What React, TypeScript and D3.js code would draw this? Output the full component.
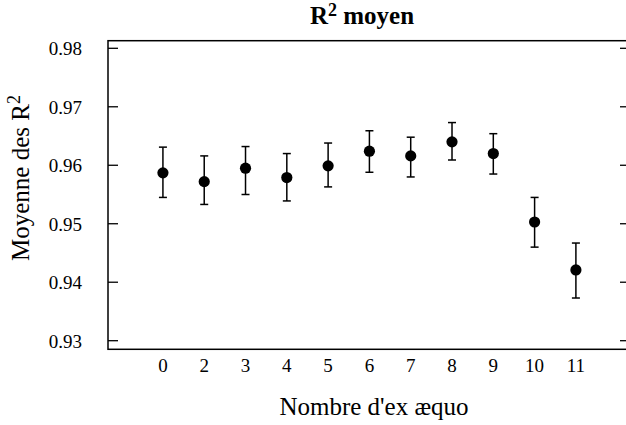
import React from "react";
import * as d3 from "d3";

const categories = ["0", "2", "3", "4", "5", "6", "7", "8", "9", "10", "11"];
const means = [0.9587, 0.9572, 0.9595, 0.9579, 0.9599, 0.9624, 0.9616, 0.964, 0.962, 0.9503, 0.9421];
const lows = [0.9545, 0.9533, 0.955, 0.9539, 0.9563, 0.9588, 0.958, 0.9609, 0.9585, 0.946, 0.9373];
const highs = [0.9631, 0.9616, 0.9632, 0.962, 0.9638, 0.9659, 0.9648, 0.9673, 0.9654, 0.9545, 0.9467];
const yTicks = [0.93, 0.94, 0.95, 0.96, 0.97, 0.98];

const W = 626;
const H = 425;
const left = 108;
const right = 630;
const top = 40.7;
const bottom = 349.3;
const FONT = `"Liberation Serif", "Times New Roman", serif`;

export default function App() {
  const x = d3.scaleLinear().domain([-1.33, 11.31]).range([left, right]);
  const y = d3.scaleLinear().domain([0.93, 0.98]).range([340.7, 48.3]);
  const cap = 4;
  const r = 5.6;
  const ts = { fontFamily: FONT };

  return (
    <>
      <style>{`body{margin:0}`}</style>
      <svg width={W} height={H} style={{ display: "block", background: "#fff" }}>
        <text x={362} y={24} textAnchor="middle" fontSize={25} fontWeight="bold" fill="#000" style={ts}>
          R<tspan fontSize={18} dy={-8}>2</tspan>
          <tspan dy={8}> moyen</tspan>
        </text>

        <rect x={left} y={top} width={right - left} height={bottom - top} fill="none" stroke="#000" strokeWidth={1.5} />

        {yTicks.map((t) => (
          <g key={t}>
            <line x1={left} x2={left + 10} y1={y(t)} y2={y(t)} stroke="#000" strokeWidth={1.3} />
            <line x1={right} x2={right - 10} y1={y(t)} y2={y(t)} stroke="#000" strokeWidth={1.3} />
            <text x={82} y={y(t) + 6.8} textAnchor="end" fontSize={19} fill="#000" style={ts}>
              {d3.format(".2f")(t)}
            </text>
          </g>
        ))}

        {categories.map((c, i) => (
          <text key={c} x={x(i)} y={372} textAnchor="middle" fontSize={19} fill="#000" style={ts}>
            {c}
          </text>
        ))}

        {categories.map((c, i) => (
          <g key={"e" + c}>
            <line x1={x(i)} x2={x(i)} y1={y(lows[i])} y2={y(highs[i])} stroke="#000" strokeWidth={1.5} />
            <line x1={x(i) - cap} x2={x(i) + cap} y1={y(lows[i])} y2={y(lows[i])} stroke="#000" strokeWidth={1.5} />
            <line x1={x(i) - cap} x2={x(i) + cap} y1={y(highs[i])} y2={y(highs[i])} stroke="#000" strokeWidth={1.5} />
            <circle cx={x(i)} cy={y(means[i])} r={r} fill="#000" />
          </g>
        ))}

        <text x={374} y={415} textAnchor="middle" fontSize={25} fill="#000" style={ts}>
          Nombre d'ex æquo
        </text>

        <text transform="translate(29,178) rotate(-90)" textAnchor="middle" fontSize={25} fill="#000" style={ts}>
          Moyenne des R<tspan fontSize={18} dy={-9}>2</tspan>
        </text>
      </svg>
    </>
  );
}
